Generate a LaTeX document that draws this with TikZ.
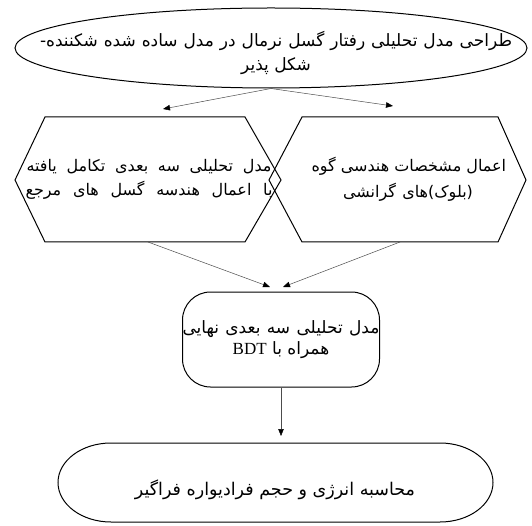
\documentclass[tikz,border=0pt]{standalone}
\usepackage{fontspec}
\newfontfamily\arabicfont[Script=Arabic]{DejaVu Sans}
\newfontfamily\latinserif{Liberation Serif}
\TeXXeTstate=1
\usetikzlibrary{arrows.meta,shapes.geometric}
% a Persian line, natural or spread to a given width
\newcommand{\fa}[1]{{\arabicfont #1}}
\newcommand{\faline}[2]{\hbox to #1{\arabicfont\spaceskip=\fontdimen2\font plus 1fil #2}}

\begin{document}
\begin{tikzpicture}[x=1pt,y=-1pt,
    box/.style={draw, line width=1pt},
    txt/.style={align=center, inner sep=0pt},
    link/.style={draw=black!70, line width=0.5pt, -{Triangle[length=7pt,width=5.5pt,black]}}]
    \useasboundingbox (0,0) rectangle (532,526);

    % Goal (ellipse on top)
    \node[box, ellipse, minimum width=512pt, minimum height=80pt] (goal) at (271,48) {};
    \node[txt, font=\fontsize{17}{24}\selectfont] (goaltext) at (276,53)
        {\faline{472pt}{\beginR طراحی مدل تحلیلی رفتار گسل نرمال در مدل ساده شده شکننده-\endR}\\
         \fa{\beginR شکل پذیر\endR}};
    \coordinate (leftend) at (163,109);
    \coordinate (rightend) at (393,106);
    \draw[link] (goal.south) -- (leftend);
    \draw[link] (goal.south) -- (rightend);

    % Two hexagons
    \draw[box] (15,180) -- (45,117) -- (245,117) -- (281,180) -- (245,242) -- (45,242) -- cycle;
    \draw[box] (269,180) -- (302,117) -- (498,117) -- (526,180) -- (498,242) -- (302,242) -- cycle;
    \node[txt, font=\fontsize{16}{24}\selectfont] (lefthex) at (149,179)
        {\faline{245pt}{\beginR مدل تحلیلی سه بعدی تکامل یافته\endR}\\
         \faline{247pt}{\beginR با اعمال هندسه گسل های مرجع\endR}};
    \node[txt, font=\fontsize{16}{26}\selectfont] (righthex) at (408,179)
        {\faline{193pt}{\beginR اعمال مشخصات هندسی گوه\endR}\\
         \faline{130pt}{\beginR (بلوک)های گرانشی\endR}};
    \coordinate (lefthexbottom) at (148,242);
    \coordinate (righthexbottom) at (400,242);
    \coordinate (finalleft) at (270,287);
    \coordinate (finalright) at (283,287);
    \draw[link] (lefthexbottom) -- (finalleft);
    \draw[link] (righthexbottom) -- (finalright);

    % Final model (rounded box)
    \node[box, rounded corners=28pt, minimum width=197pt, minimum height=95pt, txt,
          font=\fontsize{17}{21}\selectfont] (final) at (281,339.5)
        {\faline{197pt}{\beginR مدل تحلیلی سه بعدی نهایی\endR}\\
         \fa{\beginR همراه با {\latinserif\fontsize{17}{21}\selectfont BDT}\endR}};
    \coordinate (energytop) at (final.south |- 0,436);
    \draw[link] (final.south) -- (energytop);

    % Energy calculation (stadium at the bottom)
    \draw[box] (111,443) -- (440,443)
        arc[start angle=-90, end angle=90, x radius=53, y radius=39.5] -- (111,522)
        arc[start angle=90, end angle=270, x radius=53, y radius=39.5] -- cycle;
    \node[txt, font=\fontsize{17.5}{24}\selectfont] (energy) at (275,490)
        {\fa{\beginR محاسبه انرژی و حجم فرادیواره فراگیر\endR}};
\end{tikzpicture}
\end{document}
